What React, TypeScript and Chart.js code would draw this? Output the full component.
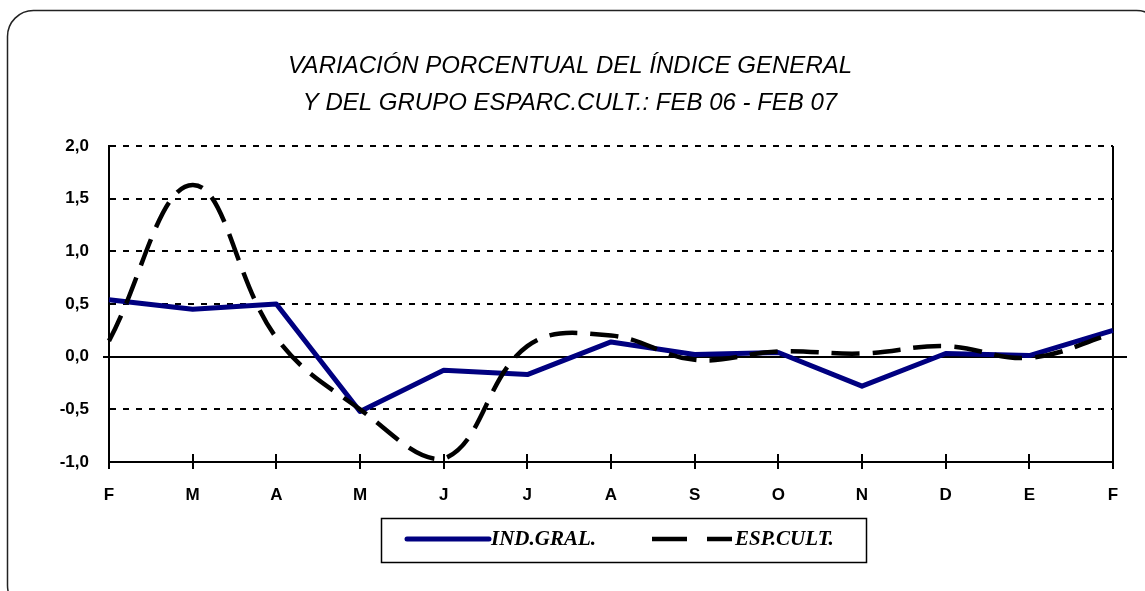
import React, { useEffect, useRef } from "react";
import { Chart, registerables } from "chart.js";

Chart.register(...registerables);

const months = ["F", "M", "A", "M", "J", "J", "A", "S", "O", "N", "D", "E", "F"];
const indGral = [0.54, 0.45, 0.5, -0.52, -0.13, -0.17, 0.14, 0.02, 0.04, -0.28, 0.03, 0.01, 0.25];
const espCult = [0.15, 1.63, 0.18, -0.5, -0.97, 0.1, 0.2, -0.03, 0.05, 0.03, 0.1, -0.01, 0.22];
const titleLines = [
  "VARIACIÓN PORCENTUAL DEL ÍNDICE GENERAL",
  "Y DEL GRUPO ESPARC.CULT.: FEB 06 - FEB 07",
];
const seriesNames = ["IND.GRAL.", "ESP.CULT."];

const W = 1145;
const H = 591;

const decorPlugin = {
  id: "decor",
  beforeDatasetsDraw(chart: any) {
    const { ctx, chartArea, scales } = chart;
    const x = scales.x;
    const y = scales.y;
    ctx.save();
    ctx.strokeStyle = "#000";
    ctx.lineWidth = 2;
    ctx.setLineDash([]);
    const y0 = Math.round(y.getPixelForValue(0));
    ctx.beginPath();
    ctx.moveTo(chartArea.left - 6, y0);
    ctx.lineTo(chartArea.right + 14, y0);
    ctx.stroke();
    ctx.beginPath();
    ctx.moveTo(chartArea.right, chartArea.top);
    ctx.lineTo(chartArea.right, chartArea.bottom + 7);
    ctx.stroke();
    for (let i = 0; i < months.length; i++) {
      const px = Math.round(x.getPixelForTick(i));
      ctx.beginPath();
      ctx.moveTo(px, chartArea.bottom - 8);
      ctx.lineTo(px, chartArea.bottom + 7);
      ctx.stroke();
    }
    ctx.restore();
  },
  afterDraw(chart: any) {
    const { ctx } = chart;
    ctx.save();
    ctx.strokeStyle = "#222";
    ctx.lineWidth = 1.5;
    ctx.beginPath();
    const fx = 7.5, fy = 10.5, fw = W + 10, fh = H + 10, r = 26;
    ctx.moveTo(fx + r, fy);
    ctx.lineTo(fx + fw - r, fy);
    ctx.arcTo(fx + fw, fy, fx + fw, fy + r, r);
    ctx.lineTo(fx + fw, fy + fh - r);
    ctx.arcTo(fx + fw, fy + fh, fx + fw - r, fy + fh, r);
    ctx.lineTo(fx + r, fy + fh);
    ctx.arcTo(fx, fy + fh, fx, fy + fh - r, r);
    ctx.lineTo(fx, fy + r);
    ctx.arcTo(fx, fy, fx + r, fy, r);
    ctx.stroke();

    ctx.fillStyle = "#000";
    ctx.textAlign = "center";
    ctx.textBaseline = "middle";
    ctx.font = "italic 24px 'Liberation Sans', Arial, sans-serif";
    ctx.fillText(titleLines[0], 570, 66);
    ctx.fillText(titleLines[1], 570, 103);

    ctx.strokeStyle = "#000";
    ctx.lineWidth = 1.5;
    ctx.strokeRect(381.5, 518.5, 485, 44);
    const ly = 539;
    ctx.lineCap = "round";
    ctx.strokeStyle = "#000080";
    ctx.lineWidth = 5;
    ctx.beginPath();
    ctx.moveTo(407, ly);
    ctx.lineTo(489, ly);
    ctx.stroke();
    ctx.lineCap = "butt";
    ctx.strokeStyle = "#000";
    ctx.lineWidth = 4.5;
    ctx.beginPath();
    ctx.moveTo(652, ly);
    ctx.lineTo(687, ly);
    ctx.moveTo(707, ly);
    ctx.lineTo(732, ly);
    ctx.stroke();
    ctx.font = "italic bold 21px 'Liberation Serif', 'Times New Roman', serif";
    ctx.textAlign = "left";
    ctx.fillStyle = "#000";
    ctx.fillText(seriesNames[0], 491, ly + 1);
    ctx.fillText(seriesNames[1], 735, ly + 1);
    ctx.restore();
  },
};

export default function App() {
  const ref = useRef<HTMLCanvasElement | null>(null);
  useEffect(() => {
    if (!ref.current) return;
    const chart = new Chart(ref.current, {
      type: "line",
      data: {
        labels: months,
        datasets: [
          {
            label: seriesNames[0],
            data: indGral,
            borderColor: "#000080",
            borderWidth: 5,
            pointRadius: 0,
            tension: 0,
            borderJoinStyle: "round",
            order: 1,
          },
          {
            label: seriesNames[1],
            data: espCult,
            borderColor: "#000",
            borderWidth: 4.5,
            borderDash: [28, 13],
            pointRadius: 0,
            tension: 0.4,
            order: 0,
          },
        ],
      },
      options: {
        animation: false,
        responsive: false,
        devicePixelRatio: 1,
        layout: { padding: { top: 146, right: 32, bottom: 0, left: 0 } },
        plugins: { legend: { display: false }, tooltip: { enabled: false }, title: { display: false } },
        scales: {
          x: {
            type: "category",
            offset: false,
            grid: { display: false },
            border: { display: true, color: "#000", width: 2 },
            ticks: {
              color: "#000",
              font: { family: "'Liberation Sans', Arial, sans-serif", size: 17, weight: "bold" },
              padding: 15,
              autoSkip: false,
              maxRotation: 0,
            },
            afterFit: (s: any) => {
              s.height = 129;
            },
          },
          y: {
            min: -1,
            max: 2,
            grid: {
              color: (c: any) => (c.tick && c.tick.value === 0 ? "rgba(0,0,0,0)" : "#000"),
              lineWidth: 2,
              drawTicks: false,
            },
            border: { display: true, color: "#000", width: 2, dash: [6, 7] },
            ticks: {
              stepSize: 0.5,
              color: "#000",
              padding: 20,
              font: { family: "'Liberation Sans', Arial, sans-serif", size: 17, weight: "bold" },
              callback: (v: any) => Number(v).toFixed(1).replace(".", ","),
            },
            afterFit: (s: any) => {
              s.width = 109;
            },
          },
        },
      },
      plugins: [decorPlugin],
    });
    return () => chart.destroy();
  }, []);
  return (
    <div style={{ position: "absolute", left: 0, top: 0, width: W, height: H, background: "#fff" }}>
      <canvas ref={ref} width={W} height={H} style={{ display: "block" }} />
    </div>
  );
}
